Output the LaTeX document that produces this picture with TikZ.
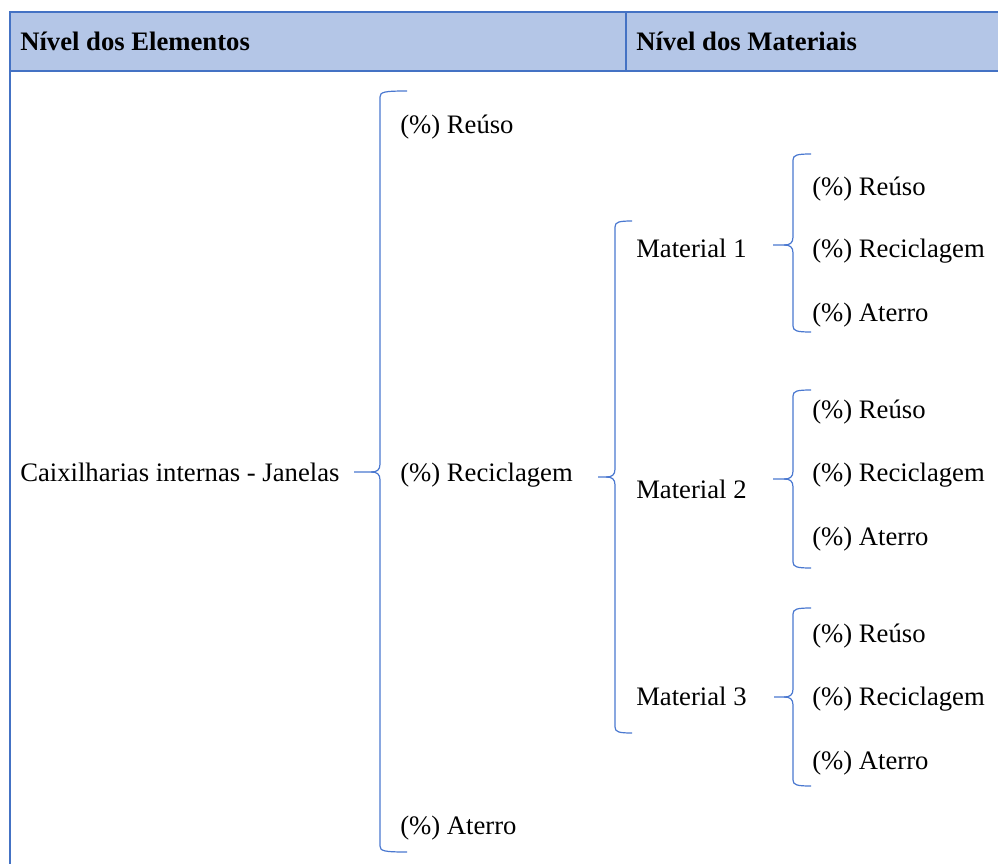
\documentclass[tikz,border=0pt]{standalone}
\usepackage{fontspec}
\setmainfont{Liberation Serif}
\definecolor{frameblue}{HTML}{4472C4}
\definecolor{headfill}{HTML}{B4C6E7}
\definecolor{braceblue}{HTML}{4A78D0}

% Curly brace opening to the right:
% #1 = x of the stem, #2 = top, #3 = tip y, #4 = bottom, #5 = end of the hooks, #6 = end of the tip
\newcommand\openbrace[6]{%
  \draw[bracestyle] (#5,#2) .. controls (#1+4,#2) and (#1,#2+1) .. (#1,#2+6)
    -- (#1,#3-8) .. controls (#1,#3-2) and (#1-3,#3) .. (#1-9,#3) -- (#6,#3);
  \draw[bracestyle] (#1-9,#3) .. controls (#1-3,#3) and (#1,#3+2) .. (#1,#3+8)
    -- (#1,#4-6) .. controls (#1,#4-1) and (#1+4,#4) .. (#5,#4);
}

\begin{document}
\begin{tikzpicture}[x=0.75pt,y=-0.75pt,
  bracestyle/.style={draw=braceblue,line width=0.9pt},
  framestyle/.style={draw=frameblue,line width=1.6pt},
  lbl/.style={anchor=base west,inner sep=0pt,font=\fontsize{20}{24}\selectfont},
  head/.style={lbl,font=\fontsize{20}{24}\selectfont\bfseries}]
\useasboundingbox (0,0) rectangle (998,863);
\clip (0,0) rectangle (998,863);

% header band and table frame
\fill[headfill] (10,12) rectangle (1010,71);
\draw[framestyle] (1010,12) -- (10,12) -- (10,880);
\draw[framestyle] (10,71) -- (1010,71);
\draw[framestyle] (626,12) -- (626,71);

\node[head] (h1) at (20,51) {Nível dos Elementos};
\node[head] (h2) at (636,51) {Nível dos Materiais};

% element level
\node[lbl] (elem) at (20,481) {Caixilharias internas - Janelas};
\openbrace{380}{91}{472}{852}{407}{354}
\node[lbl] (e1) at (400,133) {(\%) Reúso};
\node[lbl] (e2) at (400,481) {(\%) Reciclagem};
\node[lbl] (e3) at (400,834) {(\%) Aterro};

% material level
\openbrace{615}{221}{477}{733}{632}{598}
\node[lbl] (m1) at (636,257) {Material 1};
\node[lbl] (m2) at (636,498) {Material 2};
\node[lbl] (m3) at (636,705) {Material 3};

% material 1
\openbrace{793}{154}{245}{332}{811}{773}
\node[lbl] (a1) at (812,195) {(\%) Reúso};
\node[lbl] (a2) at (812,257) {(\%) Reciclagem};
\node[lbl] (a3) at (812,321) {(\%) Aterro};

% material 2
\openbrace{793}{390}{479}{568}{811}{773}
\node[lbl] (b1) at (812,418) {(\%) Reúso};
\node[lbl] (b2) at (812,481) {(\%) Reciclagem};
\node[lbl] (b3) at (812,545) {(\%) Aterro};

% material 3
\openbrace{793}{608}{697}{786}{811}{774}
\node[lbl] (c1) at (812,642) {(\%) Reúso};
\node[lbl] (c2) at (812,705) {(\%) Reciclagem};
\node[lbl] (c3) at (812,769) {(\%) Aterro};
\end{tikzpicture}
\end{document}
